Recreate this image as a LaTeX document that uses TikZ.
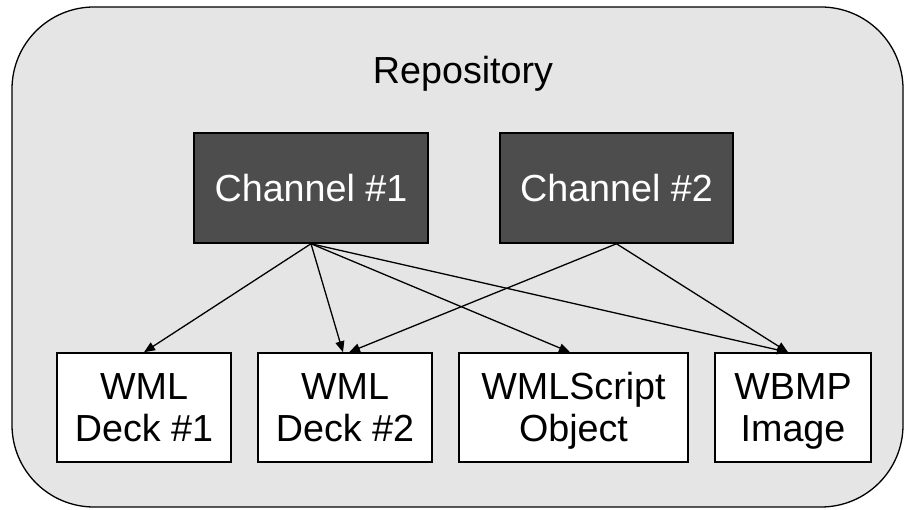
\documentclass[tikz,border=0pt]{standalone}
\usepackage{fontspec}
\setmainfont{Liberation Sans}
\usetikzlibrary{arrows.meta}

\definecolor{repofill}{HTML}{E5E5E5}
\definecolor{chanfill}{HTML}{4D4D4D}

\tikzset{
  basefont/.style={font=\fontsize{37.7}{42}\selectfont},
  chanbox/.style={basefont, draw=black, line width=1.5pt, fill=chanfill,
    text=white, inner sep=0pt, minimum height=110pt,
    text height=27pt, text depth=0pt},
  itembox/.style={basefont, draw=black, line width=1.5pt, fill=white,
    text=black, inner sep=0pt, minimum height=109pt, align=center,
    text height=69pt, text depth=0pt},
  link/.style={line width=1.3pt, draw=black,
    -{Triangle[length=11pt,width=9pt]}}
}

\begin{document}
\begin{tikzpicture}[x=1pt, y=-1pt]
  \useasboundingbox (0,0) rectangle (905,510);

  % repository container
  \draw[fill=repofill, draw=black, line width=1.3pt, rounded corners=82pt]
    (12,7) rectangle (903,507);
  \node[basefont, anchor=base, inner sep=0pt] (repo) at (463,84) {Repository};

  % channels
  \node[chanbox, minimum width=234pt] (c1) at (311,188) {Channel \#1};
  \node[chanbox, minimum width=233pt] (c2) at (616.5,188) {Channel \#2};

  % content items
  \node[itembox, minimum width=174pt] (d1) at (144,407.5) {WML\\Deck \#1};
  \node[itembox, minimum width=174pt] (d2) at (345,407.5) {WML\\Deck \#2};
  \node[itembox, minimum width=229pt] (d3) at (573.5,407.5) {WMLScript\\Object};
  \node[itembox, minimum width=156pt] (d4) at (793,407.5) {WBMP\\Image};

  % channel membership
  \draw[link] (c1.south) -- (d1.north);
  \draw[link] (c1.south) -- ([xshift=-2pt]d2.north);
  \draw[link] (c1.south) -- ([xshift=-3.5pt]d3.north);
  \draw[link] (c1.south) -- ([xshift=-5pt]d4.north);
  \draw[link] (c2.south) -- ([xshift=4pt]d2.north);
  \draw[link] (c2.south) -- ([xshift=-5pt]d4.north);
\end{tikzpicture}
\end{document}
